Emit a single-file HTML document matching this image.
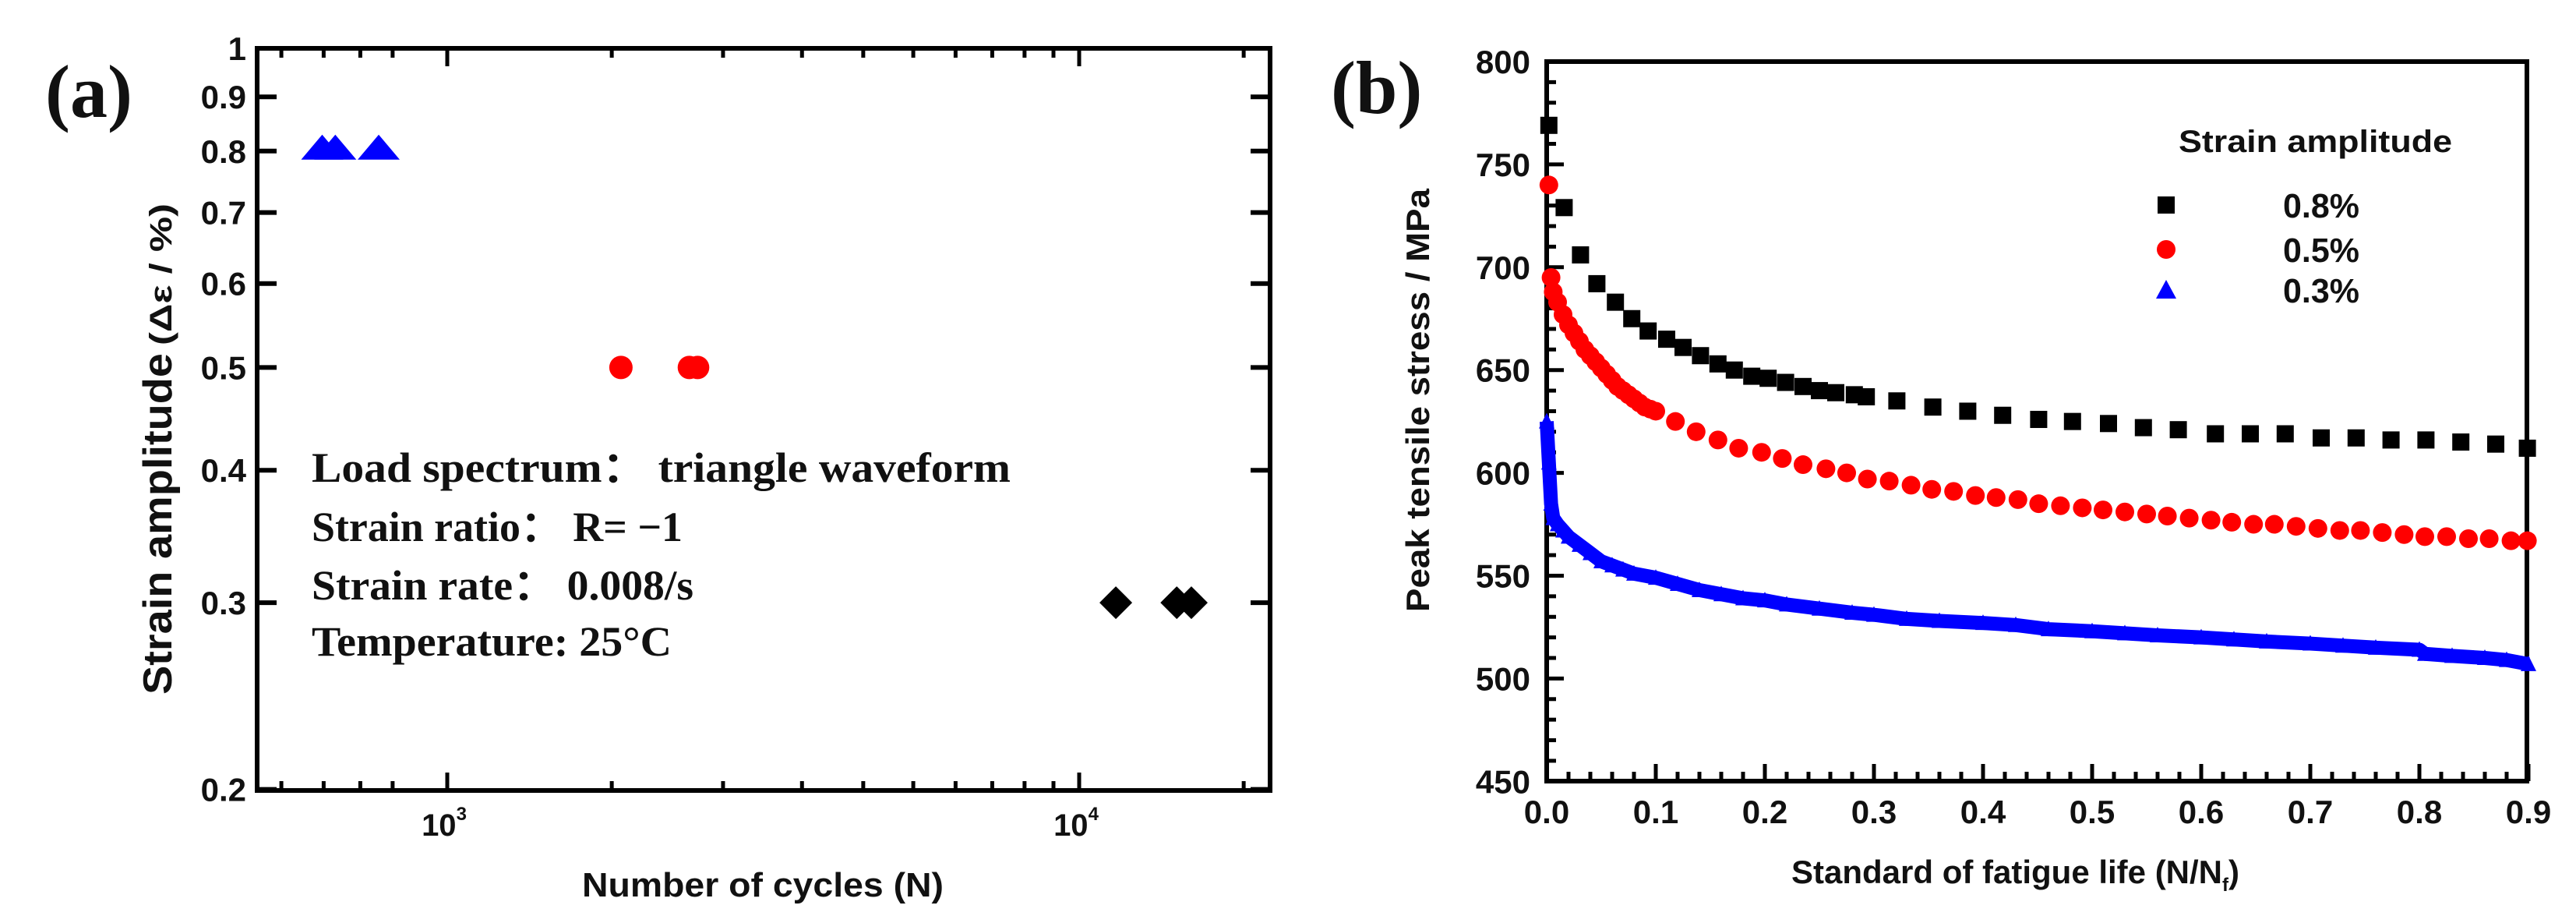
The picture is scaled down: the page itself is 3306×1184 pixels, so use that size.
<!DOCTYPE html>
<html><head><meta charset="utf-8"><style>
html,body{margin:0;padding:0;background:#fff;}
svg{display:block;}
text{font-family:"Liberation Sans",Arial,sans-serif;font-weight:bold;fill:#111;}
.serif{font-family:"Liberation Serif","Times New Roman",serif;}
</style></head><body>
<svg id="fig" width="3306" height="1184" viewBox="0 0 3306 1184" xmlns="http://www.w3.org/2000/svg">
<g id="pa"></g>
<g id="pb"></g>
</svg>
<script>
// ---------- Panel (a) data ----------
const aTriCycles = [634, 665, 779];
const aTriStrain = [0.8, 0.8, 0.8];
const aCircCycles = [1883, 2416, 2490];
const aCircStrain = [0.5, 0.5, 0.5];
const aDiaCycles = [11430, 14270, 15050];
const aDiaStrain = [0.3, 0.3, 0.3];
const aYTicks = [0.2, 0.3, 0.4, 0.5, 0.6, 0.7, 0.8, 0.9, 1];
const aYTickLabels = ["0.2", "0.3", "0.4", "0.5", "0.6", "0.7", "0.8", "0.9", "1"];
const aXMinor = [600, 700, 800, 900, 2000, 3000, 4000, 5000, 6000, 7000, 8000, 9000, 10000, 20000];
const aXMajor = [1000, 10000];
const aXMajorExp = ["3", "4"];
const aNotes = ["Load spectrum\uFF1A  triangle waveform", "Strain ratio\uFF1A  R= \u22121", "Strain  rate\uFF1A  0.008/s", "Temperature: 25\u00B0C"];

// ---------- Panel (b) data ----------
const b08X = [0.002,0.016,0.031,0.046,0.063,0.078,0.093,0.110,0.125,0.141,0.157,0.172,0.188,0.203,0.219,0.235,0.250,0.265,0.282,0.293,0.321,0.354,0.386,0.418,0.451,0.482,0.515,0.547,0.579,0.613,0.645,0.677,0.710,0.742,0.774,0.806,0.838,0.870,0.899];
const b08Y = [769,729,706,692,683,675,669,665,661,657,653,650,647,646,644,642,640,639,638,637,635,632,630,628,626,625,624,622,621,619,619,619,617,617,616,616,615,614,612];
const b05X = [0.002,0.004,0.006,0.01,0.015,0.02,0.025,0.03,0.035,0.04,0.045,0.05,0.055,0.06,0.065,0.07,0.075,0.08,0.085,0.09,0.095,0.1,0.118,0.137,0.157,0.176,0.197,0.216,0.235,0.256,0.275,0.294,0.314,0.334,0.353,0.373,0.393,0.412,0.432,0.451,0.471,0.491,0.510,0.530,0.550,0.569,0.589,0.609,0.628,0.648,0.667,0.687,0.707,0.727,0.746,0.766,0.786,0.805,0.825,0.845,0.864,0.884,0.899];
const b05Y = [740,695,688,683,677,672,668,664,660,657,654,651,648,645,642,640,638,636,634,632,631,630,625,620,616,612,610,607,604,602,600,597,596,594,592,591,589,588,587,585,584,583,582,581,580,579,578,577,576,575,575,574,573,572,572,571,570,569,569,568,568,567,567];
const b03X = [0,0.002,0.004,0.006,0.01,0.015,0.02,0.03,0.04,0.05,0.06,0.07,0.08,0.1,0.12,0.14,0.16,0.18,0.2,0.22,0.25,0.28,0.3,0.33,0.36,0.4,0.43,0.46,0.5,0.53,0.56,0.6,0.63,0.66,0.7,0.73,0.76,0.8,0.805,0.83,0.86,0.88,0.9];
const b03Y = [625,605,585,578,575,572,569,565,561,557,555,553,551,549,546,543,541,539,538,536,534,532,531,529,528,527,526,524,523,522,521,520,519,518,517,516,515,514,512,511,510,509,507];
const bYTicks = [450,500,550,600,650,700,750,800];
const bXTicks = [0,0.1,0.2,0.3,0.4,0.5,0.6,0.7,0.8,0.9];
const bXTickLabels = ["0.0","0.1","0.2","0.3","0.4","0.5","0.6","0.7","0.8","0.9"];
const bLegendLabels = ["0.8%","0.5%","0.3%"];

const NS = "http://www.w3.org/2000/svg";
function mk(parent, tag, attrs, txt){
  const e = document.createElementNS(NS, tag);
  for (const k in attrs) e.setAttribute(k, attrs[k]);
  if (txt !== undefined) e.textContent = txt;
  parent.appendChild(e);
  return e;
}
const A = {l:330, r:1630, t:62, b:1014};
function xa(v){ return 574 + (Math.log10(v) - 3) * 811; }
function xaTick(v){ return xa(v) - 33; }
function ya(v){ return A.t + (0 - Math.log10(v)) * 1360; }
const B = {l:1985, r:3243, t:79, b:1002};
function xb(v){ return B.l + v * 1400; }
function yb(v){ return B.t + (800 - v) * 131.9 / 50; }

const pa = document.getElementById('pa');
const pb = document.getElementById('pb');

let e;
e = mk(pa,'text',{x:58,y:150,'font-size':96,class:'serif'},'(a)');


e = mk(pa,'rect',{x:A.l,y:A.t,width:A.r-A.l,height:A.b-A.t,fill:'none',stroke:'#000','stroke-width':6});


aYTicks.forEach((v,i)=>{
  const y = ya(v);
  e = mk(pa,'line',{x1:A.l,x2:A.l+25,y1:y,y2:y,stroke:'#000','stroke-width':6});
  
  
  e = mk(pa,'line',{x1:A.r-25,x2:A.r,y1:y,y2:y,stroke:'#000','stroke-width':6});
  
  
  e = mk(pa,'text',{x:316,y:y+15,'font-size':42,'text-anchor':'end'},aYTickLabels[i]);
  
  
});
aXMinor.forEach(v=>{
  const x = xaTick(v);
  e = mk(pa,'line',{x1:x,x2:x,y1:A.b,y2:A.b-12,stroke:'#000','stroke-width':5});
  
  
  e = mk(pa,'line',{x1:x,x2:x,y1:A.t,y2:A.t+12,stroke:'#000','stroke-width':5});
  
  
});
aXMajor.forEach((v,i)=>{
  const x = xa(v);
  e = mk(pa,'line',{x1:x,x2:x,y1:A.b,y2:A.b-23,stroke:'#000','stroke-width':5});
  
  
  e = mk(pa,'line',{x1:x,x2:x,y1:A.t,y2:A.t+23,stroke:'#000','stroke-width':5});
  
  
  const t = mk(pa,'text',{x:x-4,y:1072,'font-size':40,'text-anchor':'middle'});
  
  
  mk(t,'tspan',{},'10');
  mk(t,'tspan',{dy:-20,'font-size':24},aXMajorExp[i]);
});
e = mk(pa,'text',{x:979,y:1150,'font-size':44,'text-anchor':'middle',textLength:464,lengthAdjust:'spacingAndGlyphs'},'Number of cycles (N)');


const yt = mk(pa,'text',{transform:'translate(220,891) rotate(-90)','font-size':52});


mk(yt,'tspan',{textLength:438,lengthAdjust:'spacingAndGlyphs'},'Strain amplitude');
mk(yt,'tspan',{dx:10,'font-size':40,textLength:182,lengthAdjust:'spacingAndGlyphs'},'(\u0394\u03B5 / %)');
aNotes.forEach((s,i)=>{
  const ys=[618,694,769,841];
  const lens=[897,476,490,462];
  e = mk(pa,'text',{x:400,y:ys[i],'font-size':54,class:'serif',textLength:lens[i],lengthAdjust:'spacingAndGlyphs'},s);
  
  
});
aTriCycles.forEach((v,i)=>{
  const x=xa(v), y=ya(aTriStrain[i]);
  e = mk(pa,'polygon',{points:`${x-27},${y+11} ${x},${y-21} ${x+27},${y+11}`,fill:'#0000ff'});
  
  
});
aCircCycles.forEach((v,i)=>{
  e = mk(pa,'circle',{cx:xa(v),cy:ya(aCircStrain[i]),r:15,fill:'#ff0000'});
  
  
});
aDiaCycles.forEach((v,i)=>{
  const x=xa(v), y=ya(aDiaStrain[i]);
  e = mk(pa,'polygon',{points:`${x-21},${y} ${x},${y-21} ${x+21},${y} ${x},${y+21}`,fill:'#000'});
  
  
});

e = mk(pb,'text',{x:1708,y:145,'font-size':96,class:'serif'},'(b)');


e = mk(pb,'rect',{x:B.l,y:B.t,width:B.r-B.l,height:B.b-B.t,fill:'none',stroke:'#000','stroke-width':6});


for (let v=450; v<=800; v+=10){
  const major = (v % 50 === 0);
  e = mk(pb,'line',{x1:B.l,x2:B.l+(major?22:12),y1:yb(v),y2:yb(v),stroke:'#000','stroke-width':5});
  
  
}
for (let k=0; k<=45; k++){
  const v=k*0.02, major=(k%5===0);
  e = mk(pb,'line',{x1:xb(v),x2:xb(v),y1:B.b,y2:B.b-(major?22:12),stroke:'#000','stroke-width':5});
  
  
}
bYTicks.forEach(v=>{
  e = mk(pb,'text',{x:1964,y:yb(v)+15,'font-size':42,'text-anchor':'end'},String(v));
  
  
});
bXTicks.forEach((v,i)=>{
  e = mk(pb,'text',{x:xb(v),y:1056,'font-size':42,'text-anchor':'middle'},bXTickLabels[i]);
  
  
});
e = mk(pb,'text',{transform:'translate(1834,785) rotate(-90)','font-size':42,textLength:543,lengthAdjust:'spacingAndGlyphs'},'Peak tensile stress / MPa');


const xt = mk(pb,'text',{x:2299,y:1133,'font-size':42});


mk(xt,'tspan',{},'Standard of fatigue life (N/N');
mk(xt,'tspan',{dy:10,'font-size':24},'f');
mk(xt,'tspan',{dy:-10},')');
e = mk(pb,'polyline',{points:b03X.map((x,i)=>`${xb(x)},${yb(b03Y[i])}`).join(' '),fill:'none',stroke:'#0000ff','stroke-width':18,'stroke-linejoin':'round'});


b03X.forEach((v,i)=>{
  const x=xb(v), y=yb(b03Y[i]);
  e = mk(pb,'polygon',{points:`${x-10},${y+9} ${x},${y-11} ${x+10},${y+9}`,fill:'#0000ff'});
  
  
});
b05X.forEach((v,i)=>{
  e = mk(pb,'circle',{cx:xb(v),cy:yb(b05Y[i]),r:12,fill:'#ff0000'});
  
  
});
b08X.forEach((v,i)=>{
  e = mk(pb,'rect',{x:xb(v)-11,y:yb(b08Y[i])-11,width:22,height:22,fill:'#000'});
  
  
});
e = mk(pb,'text',{x:2796,y:195,'font-size':40,textLength:351,lengthAdjust:'spacingAndGlyphs'},'Strain amplitude');


const lgY=[263,320,372];
e = mk(pb,'rect',{x:2769,y:252,width:22,height:22,fill:'#000'});


e = mk(pb,'circle',{cx:2780,cy:320,r:12,fill:'#ff0000'});


e = mk(pb,'polygon',{points:'2767,383 2780,359 2793,383',fill:'#0000ff'});


bLegendLabels.forEach((s,i)=>{
  e = mk(pb,'text',{x:2930,y:lgY[i]+16,'font-size':44,textLength:98,lengthAdjust:'spacingAndGlyphs'},s);
  
  
});
</script>
</body></html>
